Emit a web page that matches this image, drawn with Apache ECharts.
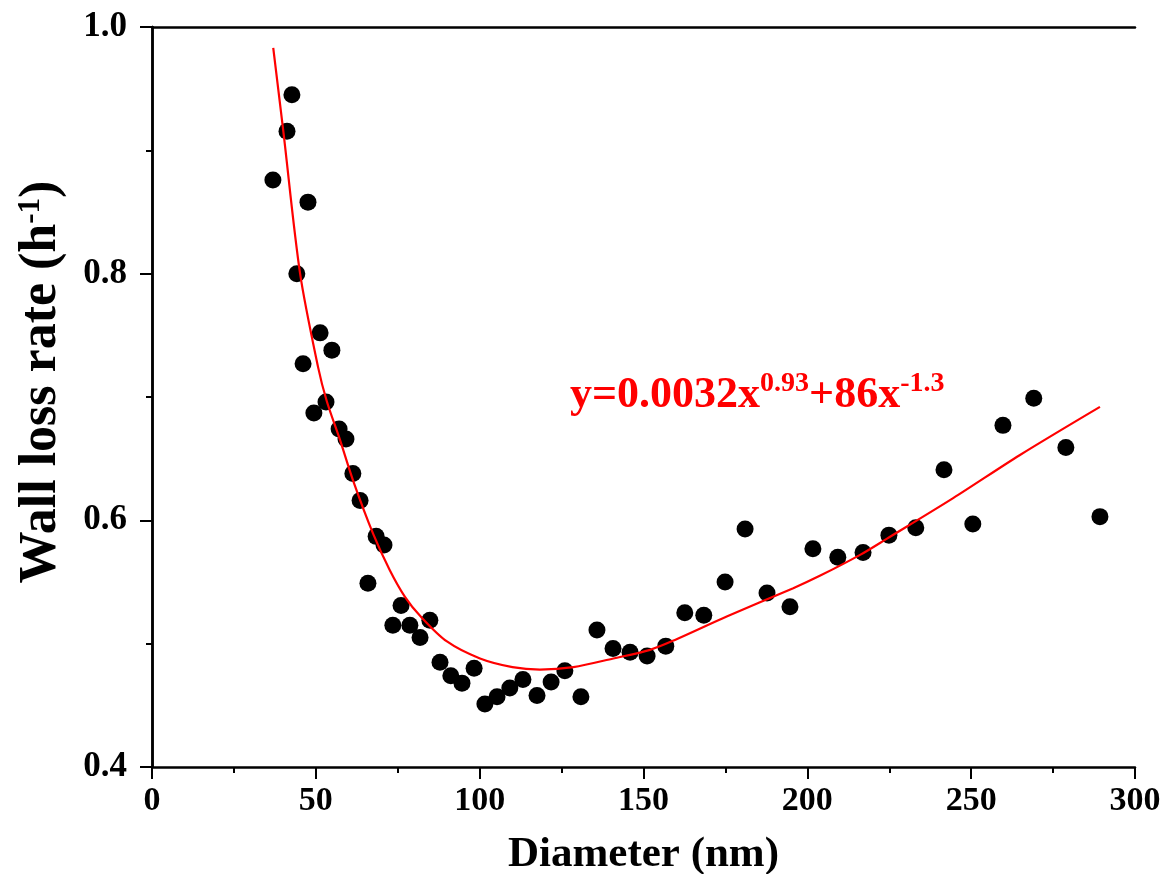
<!DOCTYPE html>
<html>
<head>
<meta charset="utf-8">
<script src="https://cdn.jsdelivr.net/npm/echarts@6/dist/echarts.min.js"></script>
<style>html,body{margin:0;padding:0;background:#fff}#c{width:1169px;height:874px}</style>
</head>
<body>
<div id="c"></div>
<script>
// Measured points (diameter nm, wall loss rate h^-1)
const diameters = [36.9,41.2,42.7,47.6,44.2,51.3,54.9,46.1,53.1,49.4,57.1,59.2,61.3,63.5,68.4,70.8,65.9,76.0,73.5,78.7,84.8,81.8,87.9,91.2,94.6,98.3,101.6,105.3,109.2,113.2,117.5,121.8,126.0,130.9,135.8,140.7,145.9,151.1,156.8,162.6,168.4,174.9,181.0,187.7,194.7,201.7,209.3,217.0,224.9,233.1,241.7,250.5,259.7,269.1,278.9,289.3];
const rates = [0.876,0.9155,0.945,0.858,0.800,0.752,0.738,0.727,0.696,0.687,0.674,0.666,0.638,0.616,0.587,0.580,0.549,0.531,0.515,0.515,0.519,0.505,0.485,0.474,0.468,0.480,0.451,0.457,0.464,0.471,0.458,0.469,0.478,0.457,0.511,0.496,0.493,0.490,0.498,0.525,0.523,0.550,0.593,0.541,0.530,0.577,0.570,0.574,0.588,0.594,0.641,0.597,0.677,0.699,0.659,0.603];
// Fitted curve
const fitX = [37.0,40.1,45.2,50.7,53.3,57.4,61.4,67.5,72.5,77.2,82.0,89.9,100.1,110.0,118.4,128.6,140.8,152.0,159.6,175.4,195.7,203.8,216.1,224.2,244.5,264.9,289.3];
const fitY = [0.983,0.915,0.800,0.724,0.697,0.665,0.632,0.589,0.560,0.538,0.522,0.502,0.488,0.481,0.479,0.481,0.488,0.495,0.503,0.522,0.545,0.555,0.572,0.585,0.618,0.653,0.692];
const xTicks = {min:0, max:300, interval:50};
const yTicks = {min:0.4, max:1.0, interval:0.2};
const xTitle = 'Diameter (nm)';
const yTitle = 'Wall loss rate (h{s|-1})';
const equation = '{a|y=0.0032x}{s|0.93}{a|+86x}{s|-1.3}';

const FONT = '"Liberation Serif","Times New Roman",serif';
const chart = echarts.init(document.getElementById('c'), null, {renderer:'canvas'});
const axLine = {show:true, lineStyle:{color:'#000', width:2.5}};
chart.setOption({
  animation:false,
  backgroundColor:'#fff',
  grid:{left:152, right:34, top:27, bottom:107, containLabel:false, outerBoundsMode:'none'},
  xAxis:[{
    type:'value', min:xTicks.min, max:xTicks.max, interval:xTicks.interval,
    position:'bottom',
    axisLine:axLine,
    axisTick:{show:true, length:12, inside:false, lineStyle:{color:'#000', width:2}},
    minorTick:{show:true, splitNumber:2, length:6, lineStyle:{color:'#000', width:2}},
    splitLine:{show:false},
    axisLabel:{margin:17, color:'#000', fontFamily:FONT, fontWeight:'bold', fontSize:34},
    name:xTitle, nameLocation:'middle', nameGap:66,
    nameTextStyle:{color:'#000', fontFamily:FONT, fontWeight:'bold', fontSize:43}
  },{
    type:'value', min:xTicks.min, max:xTicks.max, interval:xTicks.interval,
    position:'top', axisLine:axLine, axisTick:{show:false}, axisLabel:{show:false}, splitLine:{show:false}
  }],
  yAxis:[{
    type:'value', min:yTicks.min, max:yTicks.max, interval:yTicks.interval,
    position:'left',
    axisLine:axLine,
    axisTick:{show:true, length:12, inside:false, lineStyle:{color:'#000', width:2}},
    minorTick:{show:true, splitNumber:2, length:6, lineStyle:{color:'#000', width:2}},
    splitLine:{show:false},
    axisLabel:{margin:25, color:'#000', fontFamily:FONT, fontWeight:'bold', fontSize:35,
      formatter:v=>v.toFixed(1)},
    name:yTitle, nameLocation:'middle', nameGap:84, nameRotate:90,
    nameTextStyle:{color:'#000', fontFamily:FONT, fontWeight:'bold', fontSize:52, padding:[0,0,0,30],
      rich:{s:{fontFamily:FONT, fontWeight:'bold', fontSize:31, verticalAlign:'top', color:'#000', padding:[0,0,22,0]}}}
  },{
    type:'value', min:yTicks.min, max:yTicks.max, interval:yTicks.interval,
    position:'right', axisLine:axLine, axisTick:{show:false}, axisLabel:{show:false}, splitLine:{show:false}
  }],
  series:[{
    type:'scatter',
    data:diameters.map((d,i)=>[d,rates[i]]),
    symbol:'circle', symbolSize:17,
    itemStyle:{color:'#000', opacity:1},
    z:2
  },{
    type:'line',
    data:fitX.map((d,i)=>[d,fitY[i]]),
    smooth:0.3, showSymbol:false, symbol:'none',
    lineStyle:{color:'#ff0000', width:2.2},
    z:3
  }],
  graphic:[{
    type:'text', left:570, top:370, z:10,
    style:{
      text:equation, fill:'#ff0000',
      rich:{
        a:{fontFamily:FONT, fontWeight:'bold', fontSize:44, fill:'#ff0000', verticalAlign:'bottom'},
        s:{fontFamily:FONT, fontWeight:'bold', fontSize:28, fill:'#ff0000', verticalAlign:'top', padding:[0,0,20,0]}
      }
    }
  }]
});
</script>
</body>
</html>
